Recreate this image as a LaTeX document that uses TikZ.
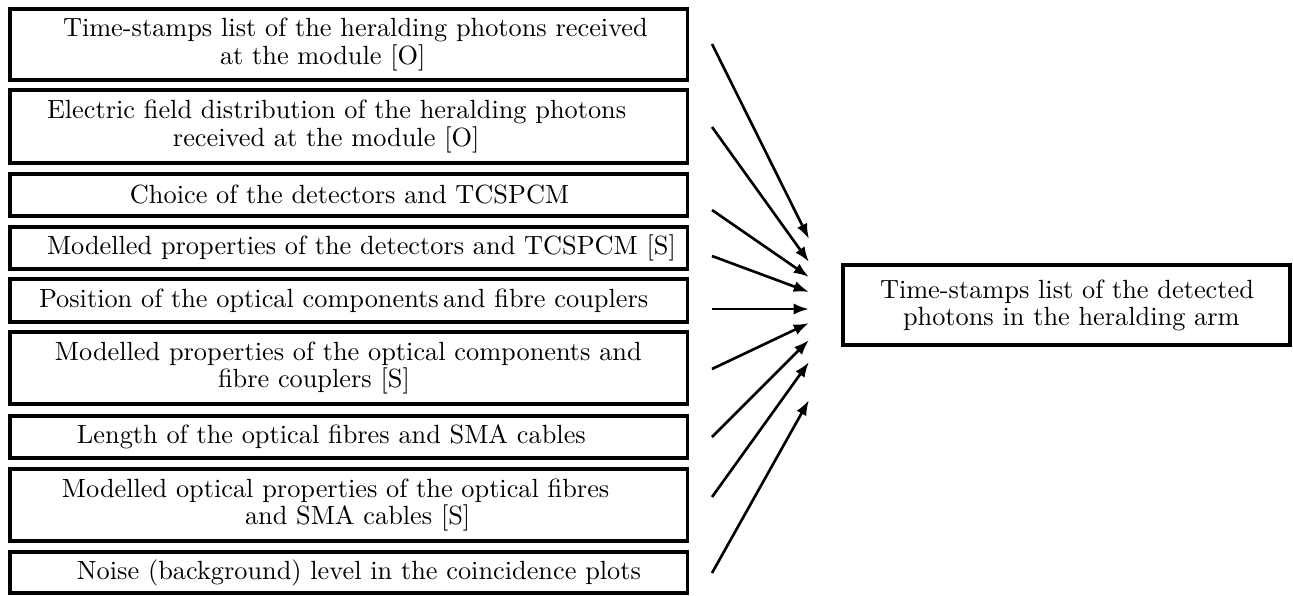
\documentclass[tikz,border=0pt]{standalone}
\usetikzlibrary{arrows.meta}
\newlength{\pxu}
\setlength{\pxu}{0.38pt}
\begin{document}
\begin{tikzpicture}[x=0.38pt, y=-0.38pt,
  inbox/.style={draw, line width=1.2pt, inner xsep=0pt, inner ysep=0pt,
    outer sep=0pt, anchor=north west, align=left, text width=677.5\pxu,
    font=\fontsize{10}{10.3}\selectfont},
  outbox/.style={draw, line width=1.2pt, inner xsep=0pt, inner ysep=0pt,
    outer sep=0pt, anchor=north west, align=left, text width=447\pxu,
    font=\fontsize{10}{10.3}\selectfont},
  feed/.style={line width=1pt, -{Latex[length=5.8pt,width=4.2pt]}}]
\useasboundingbox (0,0) rectangle (1293,595);

% input boxes
\node[inbox, minimum height=71\pxu] (b1) at (10,9)
  {\hspace*{53\pxu}Time-stamps list of the heralding photons received\\
   \hspace*{210\pxu}at the module [O]};
\node[inbox, minimum height=73\pxu] (b2) at (10,90)
  {\hspace*{37\pxu}Electric field distribution of the heralding photons\\
   \hspace*{163\pxu}received at the module [O]};
\node[inbox, minimum height=42\pxu] (b3) at (10,174)
  {\hspace*{120\pxu}Choice of the detectors and TCSPCM};
\node[inbox, minimum height=42\pxu] (b4) at (10,227)
  {\hspace*{37\pxu}Modelled properties of the detectors and TCSPCM [S]};
\node[inbox, minimum height=43\pxu] (b5) at (10,279)
  {\hspace*{29\pxu}Position of the optical components\,and fibre couplers};
\node[inbox, minimum height=72\pxu] (b6) at (10,332)
  {\hspace*{45\pxu}Modelled properties of the optical components and\\
   \hspace*{208\pxu}fibre couplers [S]};
\node[inbox, minimum height=42\pxu] (b7) at (10,416)
  {\hspace*{67\pxu}Length of the optical fibres and SMA cables};
\node[inbox, minimum height=72\pxu] (b8) at (10,469)
  {\hspace*{52\pxu}Modelled optical properties of the optical fibres\\
   \hspace*{235\pxu}and SMA cables [S]};
\node[inbox, minimum height=41\pxu] (b9) at (10,552)
  {\hspace*{67\pxu}Noise (background) level in the coincidence plots};

% output box
\node[outbox, minimum height=80\pxu] (out) at (843,265)
  {\hspace*{37\pxu}Time-stamps list of the detected\\
   \hspace*{60\pxu}photons in the heralding arm};

% arrow ends
\coordinate (s1) at (712,44);  \coordinate (t1) at (809,239);
\coordinate (s2) at (712,127); \coordinate (t2) at (809,262);
\coordinate (s3) at (712,210); \coordinate (t3) at (809,277);
\coordinate (s4) at (712,256); \coordinate (t4) at (809,292);
\coordinate (s5) at (712,309); \coordinate (t5) at (809,309);
\coordinate (s6) at (712,369); \coordinate (t6) at (809,323);
\coordinate (s7) at (712,437); \coordinate (t7) at (809,340);
\coordinate (s8) at (712,497); \coordinate (t8) at (809,362);
\coordinate (s9) at (712,573); \coordinate (t9) at (809,400);

\foreach \i in {1,...,9}
  \draw[feed] (s\i) -- (t\i);
\end{tikzpicture}
\end{document}
